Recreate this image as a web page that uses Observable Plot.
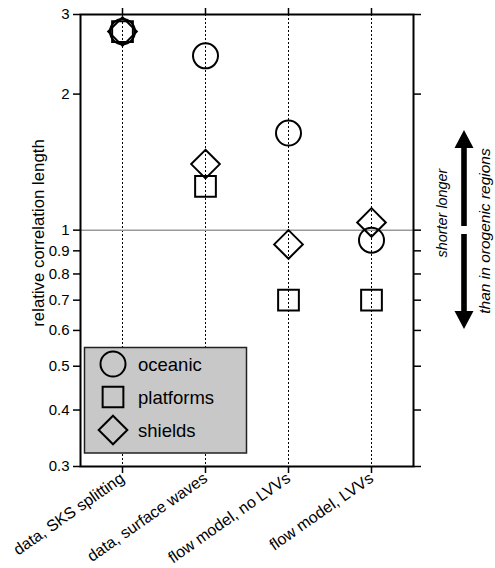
<!DOCTYPE html>
<html><head><meta charset="utf-8">
<script src="https://cdn.jsdelivr.net/npm/d3@7"></script>
<script src="https://cdn.jsdelivr.net/npm/@observablehq/plot@0.6"></script>
<style>
body{margin:0;background:#fff;font-family:"Liberation Sans",Arial,Helvetica,sans-serif;}
#wrap{position:relative;width:495px;height:568px;overflow:hidden;}
#overlay{position:absolute;left:0;top:0;pointer-events:none;}
</style></head><body><div id="wrap"></div>
<script>
const categories = ["data, SKS splitting","data, surface waves","flow model, no LVVs","flow model, LVVs"];
const oceanic = [2.75, 2.43, 1.64, 0.95];
const platforms = [2.75, 1.25, 0.70, 0.70];
const shields = [2.75, 1.40, 0.93, 1.04];
const yTicks = [0.3,0.4,0.5,0.6,0.7,0.8,0.9,1,2,3];
const seriesNames = ["oceanic","platforms","shields"];
const yLabel = "relative correlation length";
const annotA = "shorter longer";
const annotB = "than in orogenic regions";

const rows = vals => categories.map((c,i)=>({category:c, value:vals[i]}));
const font = "'Liberation Sans', Arial, Helvetica, sans-serif";

const chart = Plot.plot({
  width: 495, height: 568,
  marginLeft: 80, marginRight: 82, marginTop: 14, marginBottom: 102,
  style: {fontFamily: font, fontSize: "15px", color: "#000", background: "#fff", overflow: "visible"},
  x: {type: "point", domain: categories, padding: 0.5},
  y: {type: "log", domain: [0.3, 3]},
  marks: [
    Plot.ruleX(categories, {stroke: "#000", strokeWidth: 1, strokeDasharray: "2,2"}),
    Plot.ruleY([1], {stroke: "#999", strokeWidth: 1.5}),
    Plot.axisY({anchor: "left", ticks: yTicks, tickFormat: d => String(d), tickSize: 7, tickPadding: 4, strokeWidth: 1.5,
      label: null, fontSize: 15}),
    Plot.axisY({anchor: "right", ticks: yTicks, tickFormat: () => "", tickSize: 7, strokeWidth: 1.5, label: null}),
    Plot.axisX({anchor: "bottom", tickSize: 7, tickPadding: 3, tickRotate: -35, strokeWidth: 1.5, label: null, fontSize: 16}),
    Plot.axisX({anchor: "top", tickSize: 7, tickFormat: () => "", strokeWidth: 1.5, label: null}),
    Plot.frame({stroke: "#000", strokeWidth: 2}),
    Plot.dot(rows(oceanic), {x: "category", y: "value", symbol: "circle", r: 12.5, stroke: "#000", strokeWidth: 2, fill: "none"}),
    Plot.dot(rows(platforms), {x: "category", y: "value", symbol: "square", r: 11.7, stroke: "#000", strokeWidth: 2, fill: "none"}),
    Plot.dot(rows(shields), {x: "category", y: "value", symbol: "diamond2", r: 12.9, stroke: "#000", strokeWidth: 2, fill: "none"})
  ]
});

const wrap = document.getElementById("wrap");
wrap.appendChild(chart);

// overlay: axis title, legend and annotation
const ov = d3.select(wrap).append("svg").attr("id","overlay")
  .attr("width",495).attr("height",568).style("font-family",font);

ov.append("text").attr("transform","translate(44,233) rotate(-90)").attr("text-anchor","middle")
  .attr("font-size",16.8).text(yLabel);

const lg = ov.append("g");
lg.append("rect").attr("x",84.5).attr("y",347.5).attr("width",162).attr("height",105.5)
  .attr("fill","#c8c8c8").attr("stroke","#222").attr("stroke-width",1.5);
const sym = {oceanic: d3.symbolCircle, platforms: d3.symbolSquare, shields: d3.symbolDiamond2};
const symR = {oceanic: 12.5, platforms: 11.7, shields: 12.9};
seriesNames.forEach((name,i) => {
  const cy = 364 + i*33;
  lg.append("path").attr("transform",`translate(113,${cy})`)
    .attr("d", d3.symbol(sym[name], Math.PI*symR[name]*symR[name])())
    .attr("fill","none").attr("stroke","#000").attr("stroke-width",2);
  lg.append("text").attr("x",138).attr("y",cy+7).attr("font-size",18.5).text(name);
});

const an = ov.append("g");
const ax = 464;
an.append("path").attr("d",`M${ax-2.8},226 L${ax-2.8},148 L${ax-9.5},148 L${ax},130 L${ax+9.5},148 L${ax+2.8},148 L${ax+2.8},226 Z`).attr("fill","#000");
an.append("path").attr("d",`M${ax-2.8},234 L${ax-2.8},311 L${ax-9.5},311 L${ax},329 L${ax+9.5},311 L${ax+2.8},311 L${ax+2.8},234 Z`).attr("fill","#000");
an.append("text").attr("transform","translate(447,213) rotate(-90)").attr("text-anchor","middle")
  .attr("font-size",14.4).attr("font-style","italic").text(annotA);
an.append("text").attr("transform","translate(490,231) rotate(-90)").attr("text-anchor","middle")
  .attr("font-size",15.5).attr("font-style","italic").text(annotB);
</script></body></html>
